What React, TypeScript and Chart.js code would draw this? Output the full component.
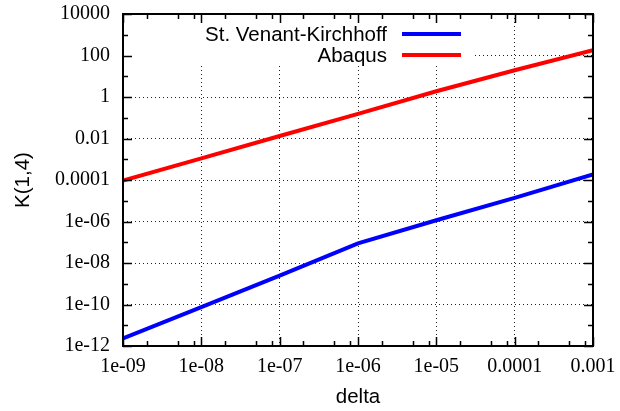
import React, { useEffect, useRef } from 'react';
import { Chart, registerables } from 'chart.js';

Chart.register(...registerables);

// ---- data ----
const deltaValues = [1e-9, 1e-8, 1e-7, 1e-6, 1e-5, 1e-4, 1e-3];
const stVenantKirchhoff = [2.3e-12, 7.4e-11, 2.45e-9, 8.9e-8, 1.15e-6, 1.38e-5, 1.86e-4];
const abaqus = [9.5e-5, 1.1e-3, 1.32e-2, 0.155, 1.9, 19.5, 182];

const seriesNames = ['St. Venant-Kirchhoff', 'Abaqus'];
const xAxisTitle = 'delta';
const yAxisTitle = 'K(1,4)';

const xTickValues = [1e-9, 1e-8, 1e-7, 1e-6, 1e-5, 1e-4, 1e-3];
const xTickLabels = ['1e-09', '1e-08', '1e-07', '1e-06', '1e-05', '0.0001', '0.001'];
const yTickValues = [1e-12, 1e-10, 1e-8, 1e-6, 1e-4, 1e-2, 1, 100, 10000];
const yTickLabels = ['1e-12', '1e-10', '1e-08', '1e-06', '0.0001', '0.01', '1', '100', '10000'];
const yMinorValues = [1e-11, 1e-9, 1e-7, 1e-5, 1e-3, 1e-1, 10, 1000];
const xMinorMultipliers = [2, 5, 8];

const SERIF = '"Liberation Serif", "DejaVu Serif", serif';
const SANS = '"Liberation Sans", Arial, sans-serif';

const gnuplotDecor = {
  id: 'gnuplotDecor',
  beforeDatasetsDraw(chart: any) {
    const { ctx, chartArea: ca } = chart;
    // opaque legend box background
    const boxRight = ca.right - 121;
    const boxBottom = ca.top + 52;
    ctx.save();
    ctx.fillStyle = '#ffffff';
    ctx.fillRect(ca.left + 1, ca.top + 1, boxRight - ca.left - 1, boxBottom - ca.top - 1);
    ctx.restore();
  },
  afterDraw(chart: any) {
    const { ctx, chartArea: ca } = chart;
    const xs = chart.scales.x;
    const ys = chart.scales.y;
    ctx.save();
    ctx.strokeStyle = '#000';
    ctx.lineWidth = 1.5;
    ctx.beginPath();
    const major = 9;
    const minor = 5;
    xTickValues.forEach((v) => {
      const px = Math.round(xs.getPixelForValue(v)) + 0.5;
      ctx.moveTo(px, ca.bottom); ctx.lineTo(px, ca.bottom - major);
      ctx.moveTo(px, ca.top); ctx.lineTo(px, ca.top + major);
      if (v < xTickValues[xTickValues.length - 1]) {
        xMinorMultipliers.forEach((m) => {
          const p = Math.round(xs.getPixelForValue(v * m)) + 0.5;
          ctx.moveTo(p, ca.bottom); ctx.lineTo(p, ca.bottom - minor);
          ctx.moveTo(p, ca.top); ctx.lineTo(p, ca.top + minor);
        });
      }
    });
    yTickValues.forEach((v) => {
      const py = Math.round(ys.getPixelForValue(v)) + 0.5;
      ctx.moveTo(ca.left, py); ctx.lineTo(ca.left + major, py);
      ctx.moveTo(ca.right, py); ctx.lineTo(ca.right - major, py);
    });
    yMinorValues.forEach((v) => {
      const py = Math.round(ys.getPixelForValue(v)) + 0.5;
      ctx.moveTo(ca.left, py); ctx.lineTo(ca.left + minor, py);
      ctx.moveTo(ca.right, py); ctx.lineTo(ca.right - minor, py);
    });
    ctx.stroke();
    // frame
    ctx.lineWidth = 2;
    ctx.strokeRect(ca.left, ca.top, ca.right - ca.left, ca.bottom - ca.top);

    // legend (gnuplot style: text right-aligned, sample line to the right)
    const lineEnd = ca.right - 132;
    const lineStart = lineEnd - 59;
    const textRight = lineStart - 15;
    ctx.font = '20.5px ' + SANS;
    ctx.textAlign = 'right';
    ctx.textBaseline = 'middle';
    chart.data.datasets.forEach((ds: any, i: number) => {
      const y = ca.top + 20 + i * 21;
      ctx.fillStyle = '#000';
      ctx.fillText(ds.label, textRight, y + 1);
      ctx.strokeStyle = ds.borderColor;
      ctx.lineWidth = 4;
      ctx.beginPath();
      ctx.moveTo(lineStart, y);
      ctx.lineTo(lineEnd, y);
      ctx.stroke();
    });
    ctx.restore();
  },
};

export default function App() {
  const canvasRef = useRef<HTMLCanvasElement | null>(null);

  useEffect(() => {
    document.body.style.margin = '0';
    const canvas = canvasRef.current;
    if (!canvas) return;
    const chart = new Chart(canvas, {
      type: 'line',
      data: {
        datasets: [
          {
            label: seriesNames[0],
            data: deltaValues.map((x, i) => ({ x, y: stVenantKirchhoff[i] })),
            borderColor: '#0000ff',
            backgroundColor: '#0000ff',
            borderWidth: 4,
            pointRadius: 0,
            tension: 0,
          },
          {
            label: seriesNames[1],
            data: deltaValues.map((x, i) => ({ x, y: abaqus[i] })),
            borderColor: '#ff0000',
            backgroundColor: '#ff0000',
            borderWidth: 4,
            pointRadius: 0,
            tension: 0,
          },
        ],
      },
      options: {
        animation: false,
        responsive: false,
        devicePixelRatio: 1,
        layout: { padding: 0 },
        plugins: { legend: { display: false }, tooltip: { enabled: false } },
        scales: {
          x: {
            type: 'logarithmic',
            min: 1e-9,
            max: 1e-3,
            afterBuildTicks: (s: any) => {
              s.ticks = xTickValues.map((value) => ({ value }));
            },
            afterFit: (s: any) => {
              s.height = 65;
              s.paddingLeft = 0;
              s.paddingRight = 27;
            },
            ticks: {
              autoSkip: false,
              maxRotation: 0,
              padding: 9,
              color: '#000',
              font: { family: SERIF, size: 20 },
              callback: (_v: any, i: number) => xTickLabels[i],
            },
            grid: { color: '#222', lineWidth: 1, drawTicks: false },
            border: { display: false, dash: [1, 3] },
            title: {
              display: true,
              text: xAxisTitle,
              color: '#000',
              font: { family: SANS, size: 20.5 },
              padding: { top: 0, bottom: 1 },
            },
          },
          y: {
            type: 'logarithmic',
            min: 1e-12,
            max: 1e4,
            afterBuildTicks: (s: any) => {
              s.ticks = yTickValues.map((value) => ({ value }));
            },
            afterFit: (s: any) => {
              s.width = 123;
              s.paddingTop = 14;
              s.paddingBottom = 0;
            },
            ticks: {
              autoSkip: false,
              padding: 13,
              color: '#000',
              font: { family: SERIF, size: 20 },
              callback: (_v: any, i: number) => yTickLabels[i],
            },
            grid: { color: '#222', lineWidth: 1, drawTicks: false },
            border: { display: false, dash: [1, 3] },
            title: {
              display: true,
              text: yAxisTitle,
              color: '#000',
              font: { family: SANS, size: 20.5 },
              padding: { top: 11, bottom: 0 },
            },
          },
        },
      },
      plugins: [gnuplotDecor],
    } as any);
    return () => chart.destroy();
  }, []);

  return (
    <div style={{ position: 'absolute', left: 0, top: 0, width: 620, height: 411 }}>
      <canvas ref={canvasRef} width={620} height={411} style={{ width: 620, height: 411 }} />
    </div>
  );
}
